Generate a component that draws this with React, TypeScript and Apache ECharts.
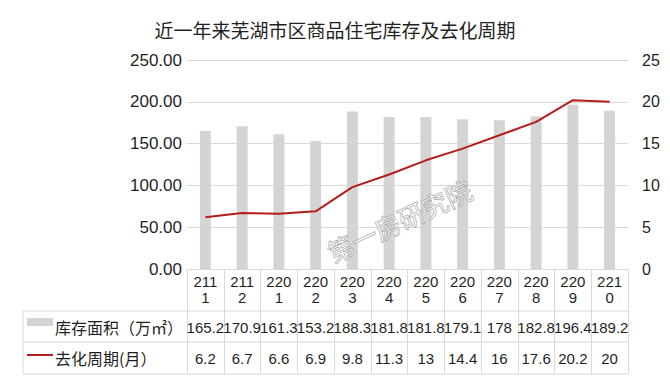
import React, { useEffect, useRef } from "react";
import * as echarts from "echarts";

const categories = ["2111", "2112", "2201", "2202", "2203", "2204", "2205", "2206", "2207", "2208", "2209", "2210"];
const inventory = [165.2, 170.9, 161.3, 153.2, 188.3, 181.8, 181.8, 179.1, 178, 182.8, 196.4, 189.2];
const cycle = [6.2, 6.7, 6.6, 6.9, 9.8, 11.3, 13, 14.4, 16, 17.6, 20.2, 20];
const leftTicks = { min: 0, max: 250, interval: 50 };
const rightTicks = { min: 0, max: 25, interval: 5 };
const seriesNames = ["库存面积（万㎡）", "去化周期(月）"];
const titleText = "近一年来芜湖市区商品住宅库存及去化周期";
const watermark = "第一房研究院";

const W = 670;
const H = 382;
const GRID_L = 187;
const GRID_R = 628;
const GRID_T = 60;
const GRID_B = 269;
const TABLE_L = 23;
const ROW1 = 311;
const ROW2 = 342;
const ROW3 = 374;
const BORDER = "#d9d9d9";
const TEXT = "#1f1f1f";
const NUM_FONT = "'Liberation Sans', Arial, sans-serif";
const CJK_FONT = "'Noto Sans CJK SC', 'Microsoft YaHei', sans-serif";

export default function App() {
  const ref = useRef<HTMLDivElement>(null);
  useEffect(() => {
    if (!ref.current) return;
    const chart = echarts.init(ref.current, null, { renderer: "svg" });
    const hLine = (y: number) => ({
      type: "line",
      shape: { x1: TABLE_L, y1: y, x2: GRID_R, y2: y },
      style: { stroke: BORDER, lineWidth: 1 },
      silent: true,
    });
    const valueAxis = (vals: (number | string)[], offset: number) => ({
      type: "category",
      data: categories,
      gridIndex: 0,
      position: "bottom",
      offset,
      axisLine: { show: false },
      axisTick: { show: false },
      axisLabel: {
        interval: 0,
        margin: 4,
        fontSize: 15,
        lineHeight: 16,
        color: TEXT,
        fontFamily: NUM_FONT,
        formatter: (_v: string, i: number) => String(vals[i]),
      },
    });
    chart.setOption({
      animation: false,
      backgroundColor: "#ffffff",
      title: {
        text: titleText,
        left: "center",
        top: 15,
        textStyle: { fontSize: 19, fontWeight: "normal", color: TEXT, fontFamily: CJK_FONT },
      },
      grid: { left: GRID_L, right: W - GRID_R, top: GRID_T, bottom: H - GRID_B, containLabel: false },
      xAxis: [
        {
          type: "category",
          data: categories,
          position: "bottom",
          axisLine: { show: true, lineStyle: { color: BORDER, width: 1 } },
          axisTick: {
            show: true,
            interval: 0,
            alignWithLabel: false,
            inside: false,
            length: ROW3 - GRID_B,
            lineStyle: { color: BORDER, width: 1 },
          },
          axisLabel: {
            interval: 0,
            margin: 4,
            fontSize: 15,
            lineHeight: 16,
            color: TEXT,
            fontFamily: NUM_FONT,
            formatter: (v: string) => v.slice(0, 3) + "\n" + v.slice(3),
          },
        },
        valueAxis(inventory, 46),
        valueAxis(cycle, 77),
      ],
      yAxis: [
        {
          type: "value",
          ...leftTicks,
          position: "left",
          axisLine: { show: false },
          axisTick: { show: false },
          splitLine: { show: true, lineStyle: { color: BORDER, width: 1 } },
          axisLabel: {
            margin: 5,
            fontSize: 17,
            color: TEXT,
            fontFamily: NUM_FONT,
            formatter: (v: number) => v.toFixed(2),
          },
        },
        {
          type: "value",
          ...rightTicks,
          position: "right",
          axisLine: { show: false },
          axisTick: { show: false },
          splitLine: { show: false },
          axisLabel: { margin: 14, fontSize: 16, color: TEXT, fontFamily: NUM_FONT },
        },
      ],
      series: [
        {
          name: seriesNames[0],
          type: "bar",
          data: inventory,
          xAxisIndex: 0,
          yAxisIndex: 0,
          barWidth: 11,
          itemStyle: { color: "#d4d4d4" },
        },
        {
          name: seriesNames[1],
          type: "line",
          data: cycle,
          xAxisIndex: 0,
          yAxisIndex: 1,
          symbol: "none",
          lineStyle: { color: "#b71c1c", width: 2 },
        },
      ],
      graphic: [
        hLine(ROW1),
        hLine(ROW2),
        hLine(ROW3),
        {
          type: "line",
          shape: { x1: TABLE_L, y1: ROW1, x2: TABLE_L, y2: ROW3 },
          style: { stroke: BORDER, lineWidth: 1 },
          silent: true,
        },
        {
          type: "rect",
          shape: { x: 27, y: 318, width: 26, height: 8 },
          style: { fill: "#d4d4d4" },
          silent: true,
        },
        {
          type: "text",
          x: 55,
          y: (ROW1 + ROW2) / 2,
          style: {
            text: seriesNames[0],
            fontSize: 16,
            fontFamily: CJK_FONT,
            fill: TEXT,
            verticalAlign: "middle",
          },
          silent: true,
        },
        {
          type: "line",
          shape: { x1: 27, y1: 355, x2: 53, y2: 355 },
          style: { stroke: "#b71c1c", lineWidth: 2 },
          silent: true,
        },
        {
          type: "text",
          x: 55,
          y: (ROW2 + ROW3) / 2,
          style: {
            text: seriesNames[1],
            fontSize: 16,
            fontFamily: CJK_FONT,
            fill: TEXT,
            verticalAlign: "middle",
          },
          silent: true,
        },
        {
          type: "text",
          x: 399,
          y: 220,
          rotation: (25 * Math.PI) / 180,
          style: {
            text: watermark,
            fontSize: 26,
            fontFamily: CJK_FONT,
            fill: "rgba(255,255,255,0.5)",
            stroke: "#8a8a8a",
            lineWidth: 0.7,
            align: "center",
            verticalAlign: "middle",
          },
          silent: true,
          z: 100,
        },
      ],
    });
    return () => chart.dispose();
  }, []);
  return <div ref={ref} style={{ width: W, height: H, position: "absolute", left: 0, top: 0 }} />;
}
